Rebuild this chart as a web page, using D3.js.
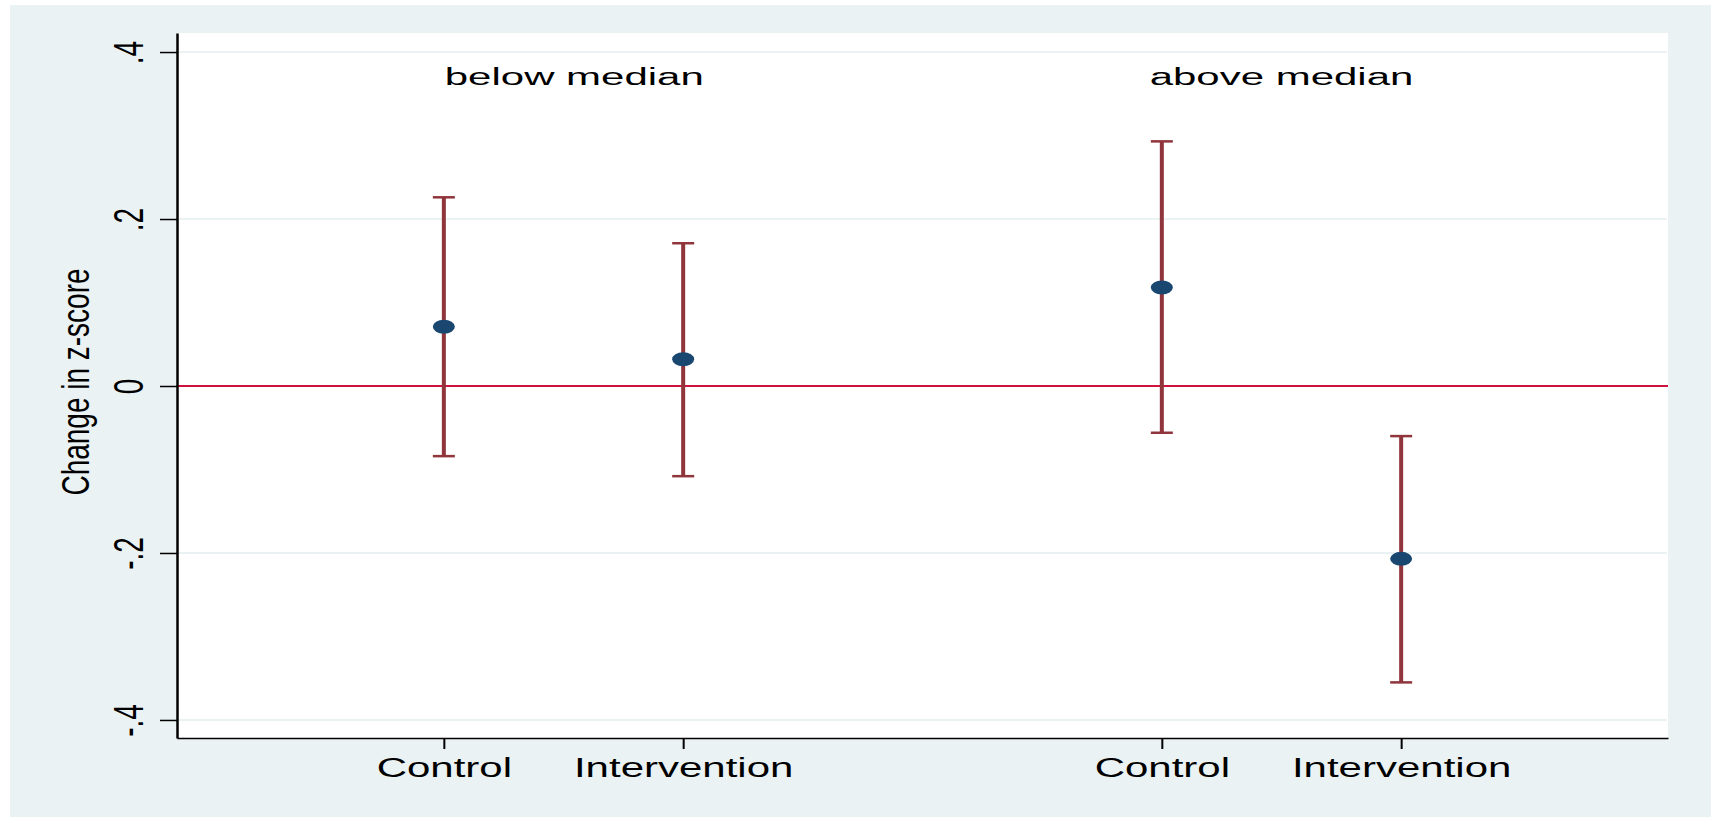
<!DOCTYPE html>
<html>
<head>
<meta charset="utf-8">
<title>Change in z-score by group</title>
<script src="https://d3js.org/d3.v7.min.js"></script>
<style>
body { margin: 0; background: #ffffff; }
text { font-family: "Liberation Sans", Arial, sans-serif; fill: #000; }
</style>
</head>
<body>
<div id="chart"></div>
<script>
// data
var groups = ["below median", "above median"];
var groupX = [1.545, 4.5];
var arms = ["Control", "Intervention", "Control", "Intervention"];
var xPos = [1, 2, 4, 5];
var est = [0.071, 0.032, 0.118, -0.207];
var lo = [-0.084, -0.108, -0.056, -0.355];
var hi = [0.226, 0.171, 0.293, -0.060];
var yTicks = [-0.4, -0.2, 0, 0.2, 0.4];

var W = 1711, H = 817;
var plot = {left: 177, right: 1668, top: 33, bottom: 738};

var svg = d3.select("#chart").append("svg")
    .attr("width", W)
    .attr("height", H);

// outer graph region
svg.append("rect")
    .attr("x", 10).attr("y", 5)
    .attr("width", W - 10).attr("height", H - 5)
    .attr("fill", "#eaf2f3");

// plot region
svg.append("rect")
    .attr("x", plot.left).attr("y", plot.top)
    .attr("width", plot.right - plot.left).attr("height", plot.bottom - plot.top)
    .attr("fill", "#ffffff");

var x = d3.scaleLinear()
    .domain([-0.115, 6.115])
    .range([plot.left, plot.right]);
var y = d3.scaleLinear()
    .domain([-0.4216, 0.4228])
    .range([plot.bottom, plot.top]);

function fmt(d) {
  if (d === 0) return "0";
  return (d < 0 ? "-" : "") + String(Math.abs(d)).replace(/^0/, "");
}

// grid lines
svg.append("g").selectAll("line")
    .data(yTicks.filter(function(d) { return d !== 0; }))
  .enter().append("line")
    .attr("x1", plot.left).attr("x2", plot.right - 1)
    .attr("y1", function(d) { return y(d); })
    .attr("y2", function(d) { return y(d); })
    .attr("stroke", "#eaf2f3")
    .attr("stroke-width", 2);

// reference line at zero
svg.append("line")
    .attr("x1", plot.left).attr("x2", plot.right)
    .attr("y1", y(0)).attr("y2", y(0))
    .attr("stroke", "#ce123e")
    .attr("stroke-width", 2);

// y axis
var yAxis = svg.append("g")
    .attr("transform", "translate(" + plot.left + ",0)")
    .call(d3.axisLeft(y).tickValues(yTicks).tickFormat(fmt).tickSize(17).tickSizeOuter(0));
yAxis.select(".domain").attr("stroke", "#000").attr("stroke-width", 2.5);
yAxis.selectAll(".tick line").attr("stroke", "#000").attr("stroke-width", 1.5);
yAxis.selectAll(".tick text")
    .attr("x", null).attr("dy", null)
    .attr("transform", "translate(-34,0) scale(1.55,1) rotate(-90)")
    .attr("text-anchor", "middle")
    .style("font-size", "28px")
    .style("font-family", "'Liberation Sans', Arial, sans-serif")
    .attr("fill", "#000");

// x axis
var xAxis = svg.append("g")
    .attr("transform", "translate(0," + plot.bottom + ")")
    .call(d3.axisBottom(x).tickValues(xPos)
      .tickFormat(function(d, i) { return arms[i]; })
      .tickSize(11).tickSizeOuter(0));
xAxis.select(".domain").attr("stroke", "#000").attr("stroke-width", 1.5);
xAxis.selectAll(".tick line").attr("stroke", "#000").attr("stroke-width", 2);
xAxis.selectAll(".tick text")
    .attr("y", null).attr("dy", null)
    .attr("transform", "translate(0,39) scale(1.5,1)")
    .attr("text-anchor", "middle")
    .style("font-size", "28px")
    .style("font-family", "'Liberation Sans', Arial, sans-serif")
    .attr("fill", "#000");

// y axis title
svg.append("text")
    .attr("transform", "translate(89,382) scale(1.4,1) rotate(-90)")
    .attr("text-anchor", "middle")
    .style("font-size", "28px")
    .text("Change in z-score");

// group labels
svg.selectAll(".grp")
    .data(groups)
  .enter().append("text")
    .attr("class", "grp")
    .attr("transform", function(d, i) {
      return "translate(" + x(groupX[i]) + "," + y(0.36) + ") scale(1.75,1)";
    })
    .attr("text-anchor", "middle")
    .style("font-size", "24px")
    .text(function(d) { return d; });

// confidence intervals
var ci = svg.append("g");
ci.selectAll(".bar")
    .data(xPos)
  .enter().append("line")
    .attr("x1", function(d) { return x(d); })
    .attr("x2", function(d) { return x(d); })
    .attr("y1", function(d, i) { return y(hi[i]); })
    .attr("y2", function(d, i) { return y(lo[i]); })
    .attr("stroke", "#90353b")
    .attr("stroke-width", 4);
ci.selectAll(".capHi")
    .data(xPos)
  .enter().append("line")
    .attr("x1", function(d) { return x(d) - 11; })
    .attr("x2", function(d) { return x(d) + 11; })
    .attr("y1", function(d, i) { return y(hi[i]); })
    .attr("y2", function(d, i) { return y(hi[i]); })
    .attr("stroke", "#90353b")
    .attr("stroke-width", 2.5);
ci.selectAll(".capLo")
    .data(xPos)
  .enter().append("line")
    .attr("x1", function(d) { return x(d) - 11; })
    .attr("x2", function(d) { return x(d) + 11; })
    .attr("y1", function(d, i) { return y(lo[i]); })
    .attr("y2", function(d, i) { return y(lo[i]); })
    .attr("stroke", "#90353b")
    .attr("stroke-width", 2.5);

// point estimates
svg.append("g").selectAll("ellipse")
    .data(xPos)
  .enter().append("ellipse")
    .attr("cx", function(d) { return x(d); })
    .attr("cy", function(d, i) { return y(est[i]); })
    .attr("rx", 11)
    .attr("ry", 7)
    .attr("fill", "#1a476f");
</script>
</body>
</html>
